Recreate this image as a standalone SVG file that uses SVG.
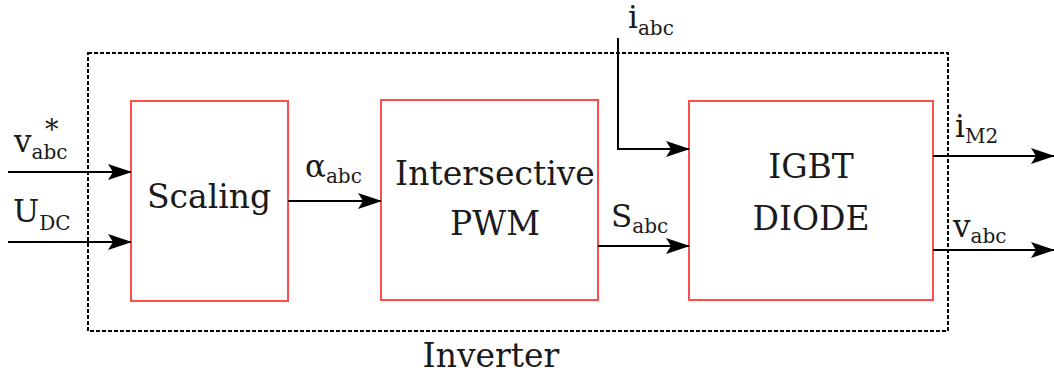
<svg xmlns="http://www.w3.org/2000/svg" width="1054" height="379" viewBox="0 0 1054 379">
<style>
.blk{fill:#fff;stroke:#ff4d4d;stroke-width:2}
.frame{fill:none;stroke:#000;stroke-width:2;stroke-dasharray:4 2}
.w{stroke:#000;stroke-width:2;fill:none}
text{font-family:'DejaVu Serif','Liberation Serif',serif;fill:#1a1a1a}
.big{font-size:33px;text-anchor:middle}
.lab{font-size:31px}
.sub{font-size:20px}
</style>
<defs>
<marker id="ah" markerWidth="24" markerHeight="16" refX="23" refY="8" orient="auto" markerUnits="userSpaceOnUse">
<path d="M0,0 L24,8 L0,16 L5,8 Z" fill="#000"/>
</marker>
</defs>
<rect class="frame" x="88" y="53" width="860" height="278"/>
<g id="scaling"><rect class="blk" x="131" y="101" width="157" height="200"/><text class="big" x="209" y="208">Scaling</text></g>
<g id="pwm"><rect class="blk" x="381" y="100" width="217" height="200"/><text class="big" x="495" y="185">Intersective</text><text class="big" x="495" y="235">PWM</text></g>
<g id="igbt"><rect class="blk" x="689" y="101" width="244" height="199"/><text class="big" x="811" y="178">IGBT</text><text class="big" x="811" y="230">DIODE</text></g>
<g id="inverter-label"><text class="big" x="491" y="367">Inverter</text></g>
<g id="connectors">
<path class="w" d="M8,172 H131" marker-end="url(#ah)"/>
<path class="w" d="M8,242 H131" marker-end="url(#ah)"/>
<path class="w" d="M288,201 H381" marker-end="url(#ah)"/>
<path class="w" d="M598,246 H689" marker-end="url(#ah)"/>
<path class="w" d="M618,38 V149 H689" marker-end="url(#ah)"/>
<path class="w" d="M933,156 H1054" marker-end="url(#ah)"/>
<path class="w" d="M933,250 H1054" marker-end="url(#ah)"/>
</g>
<g id="labels">
<text class="lab" x="14" y="152">v<tspan class="sub" dy="7">abc</tspan></text>
<text x="45" y="139" style="font-size:27px">*</text>
<text class="lab" x="13" y="222">U<tspan class="sub" dy="8">DC</tspan></text>
<text class="lab" x="305" y="177">α<tspan class="sub" dy="6">abc</tspan></text>
<text class="lab" x="611" y="227">S<tspan class="sub" dy="6">abc</tspan></text>
<text class="lab" x="628" y="28">i<tspan class="sub" dy="7">abc</tspan></text>
<text class="lab" x="955" y="137">i<tspan class="sub" dy="6">M2</tspan></text>
<text class="lab" x="953" y="237">v<tspan class="sub" dy="6">abc</tspan></text>
</g>
</svg>
